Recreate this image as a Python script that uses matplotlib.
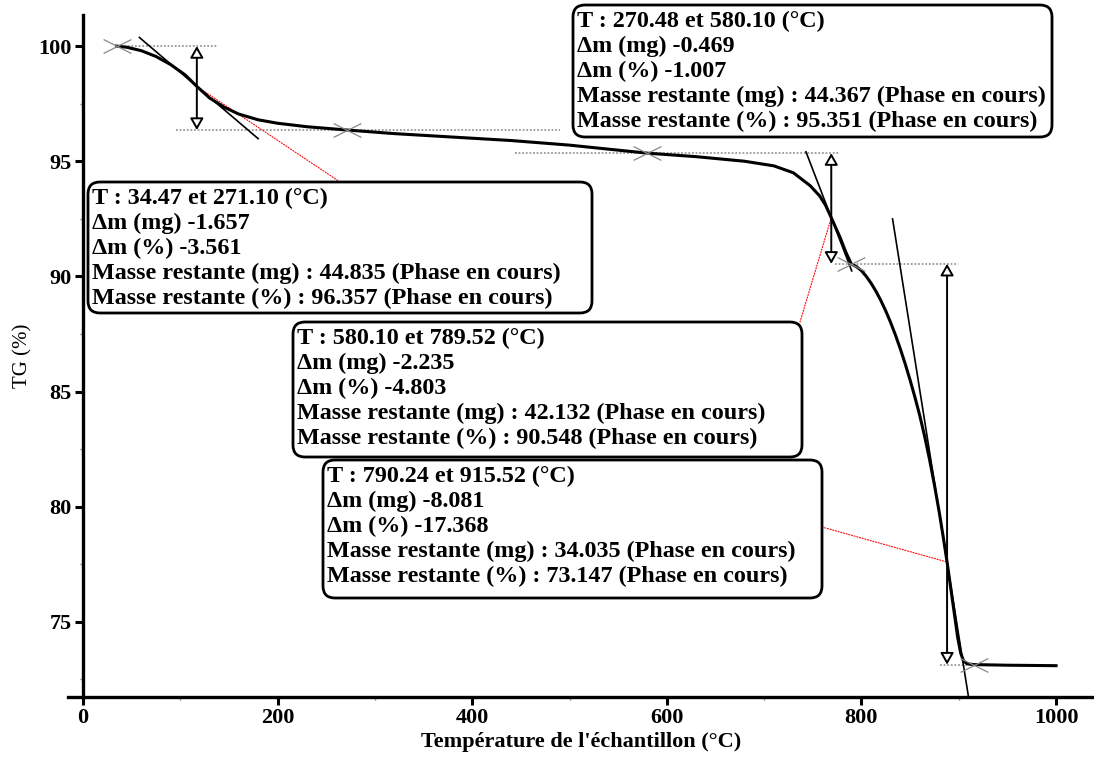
import numpy as np
import matplotlib
matplotlib.use("Agg")
import matplotlib.pyplot as plt
from matplotlib.patches import FancyBboxPatch, FancyArrowPatch
from matplotlib.path import Path
from matplotlib.transforms import IdentityTransform

plt.rcParams["font.family"] = ["Liberation Serif", "DejaVu Serif"]

# Thermogravimetric curve: sample temperature (°C) vs remaining mass (%)
temperature = [34.5, 45, 60, 75, 90, 105, 117, 130, 145, 160, 180, 200, 230,
               271.1, 320, 380, 440, 500, 580.1, 630, 680, 710, 730, 747, 757,
               763, 769, 778, 784, 789.5, 795, 800, 805, 810, 815, 820, 825,
               830, 835, 840, 845, 850, 855, 860, 865, 870, 875, 880, 884,
               888, 892, 896, 899, 902, 905, 909, 915.5, 950, 1000]
tg = [100.0, 99.95, 99.8, 99.55, 99.2, 98.75, 98.25, 97.75, 97.35, 97.05,
      96.8, 96.65, 96.5, 96.357, 96.2, 96.05, 95.9, 95.7, 95.351, 95.2, 95.0,
      94.8, 94.5, 93.95, 93.5, 93.1, 92.55, 91.7, 91.05, 90.548, 90.42, 90.25,
      90.0, 89.7, 89.35, 88.95, 88.5, 88.0, 87.45, 86.85, 86.2, 85.5, 84.75,
      83.95, 83.05, 82.05, 80.95, 79.75, 78.7, 77.6, 76.4, 75.2, 74.3, 73.65,
      73.3, 73.18, 73.147, 73.12, 73.1]

# Mass-loss steps reported by the analysis software
step_start = [34.47, 270.48, 580.10, 790.24]
step_end = [271.10, 580.10, 789.52, 915.52]
delta_mg = [-1.657, -0.469, -2.235, -8.081]
delta_pct = [-3.561, -1.007, -4.803, -17.368]
rest_mg = [44.835, 44.367, 42.132, 34.035]
rest_pct = [96.357, 95.351, 90.548, 73.147]

# Step boundaries (temperature, mass %) marked with crosses
bound_T = [34.47, 271.10, 580.10, 789.52, 915.52]
bound_TG = [100.0, 96.357, 95.351, 90.548, 73.147]

# Plateau reference levels (level, x from, x to)
level_TG = [100.0, 96.357, 95.351, 90.548, 73.147]
level_from = [34.47, 96, 444, 773, 881]
level_to = [138, 490, 778, 899, 927]

# Inflection temperatures, measured span of each arrow and tangent slopes
peak_T = [117, 769, 888]
arrow_top = [100.0, 95.351, 90.548]
arrow_bottom = [96.357, 90.548, 73.147]
tangent_slope = [-0.036, -0.110, -0.266]
tangent_from = [58, 743, 832]
tangent_to = [180, 790, 912]

x_ticks = [0, 200, 400, 600, 800, 1000]
y_ticks = [75, 80, 85, 90, 95, 100]

W, H = 1094, 757
fig = plt.figure(figsize=(W / 100, H / 100), dpi=100)
ax = fig.add_axes([68 / W, (H - 697) / H, (W - 68) / W, (697 - 15) / H])
ax.set_xlim(-15.4, 1039)
ax.set_ylim(71.74, 101.35)

for s in ("top", "right"):
    ax.spines[s].set_visible(False)
ax.spines["left"].set_position(("data", 0))
for s in ("left", "bottom"):
    ax.spines[s].set_linewidth(2.4)

ax.set_xticks(x_ticks)
ax.set_xticks([100, 300, 500, 700, 900], minor=True)
ax.set_yticks(y_ticks)
ax.set_yticks([72.5, 77.5, 82.5, 87.5, 92.5, 97.5], minor=True)
ax.tick_params(which="major", direction="out", length=6, width=2.2,
               labelsize=16, pad=2)
ax.tick_params(which="minor", direction="out", length=2.5, width=1,
               color="#888888")
for lab in ax.get_xticklabels() + ax.get_yticklabels():
    lab.set_fontweight("bold")

ax.set_xlabel("Température de l'échantillon (°C)", fontsize=16,
              fontweight="bold", labelpad=3)
ax.set_ylabel("TG (%)", fontsize=15)
ax.yaxis.set_label_coords(-0.035, 0.5)

# Plateau levels
for lv, a, b in zip(level_TG, level_from, level_to):
    ax.plot([a, b], [lv, lv], color="#999999", lw=1.3, ls=(0, (1, 1)),
            zorder=1)

# Tangents at the inflection points
for pt, sl, a, b in zip(peak_T, tangent_slope, tangent_from, tangent_to):
    y0 = np.interp(pt, temperature, tg)
    xs = np.array([a, b])
    ax.plot(xs, y0 + sl * (xs - pt), color="black", lw=1.2, zorder=2)

# TG curve
ax.plot(temperature, tg, color="black", lw=2.2, zorder=3)

# Boundary crosses
cross = Path([(-1, -0.5), (1, 0.5), (-1, 0.5), (1, -0.5)],
             [Path.MOVETO, Path.LINETO, Path.MOVETO, Path.LINETO])
ax.plot(bound_T, bound_TG, ls="none", marker=cross, markersize=20,
        markeredgecolor="#888888", markeredgewidth=0.9, zorder=4)

# Double arrows for the mass loss of each step
for pt, top, bot in zip(peak_T, arrow_top, arrow_bottom):
    arr = FancyArrowPatch((pt, bot), (pt, top),
                          arrowstyle="<|-|>,head_length=7,head_width=4",
                          mutation_scale=1, shrinkA=0, shrinkB=0,
                          fc="white", ec="black", lw=1.4, zorder=5)
    ax.add_patch(arr)

# Result boxes: left, top, right, bottom in pixels from the top-left corner
boxes = [(88, 182, 592, 313), (573, 5, 1052, 137),
         (293, 322, 802, 457), (323, 460, 822, 598)]

lines_per_box = []
for a, b, dm, dp, rm, rp in zip(step_start, step_end, delta_mg, delta_pct,
                                rest_mg, rest_pct):
    lines_per_box.append([
        f"T : {a:.2f} et {b:.2f} (°C)",
        f"Δm (mg) {dm:.3f}",
        f"Δm (%) {dp:.3f}",
        f"Masse restante (mg) : {rm:.3f} (Phase en cours)",
        f"Masse restante (%) : {rp:.3f} (Phase en cours)",
    ])

# Leader lines from the inflection points to their boxes
leader_end = [(340, 182), (800, 322), (822, 527)]
for pt, (ex, ey) in zip(peak_T, leader_end):
    y0 = np.interp(pt, temperature, tg)
    ax.annotate("", xy=(pt, y0), xycoords="data",
                xytext=(ex, H - ey), textcoords="figure pixels",
                arrowprops=dict(arrowstyle="-", color="red", lw=0.8,
                                ls=(0, (1, 1.5)), shrinkA=0, shrinkB=0),
                zorder=2)

# Fit the text size so that the last line of a box spans about 463 px
fig.canvas.draw()
renderer = fig.canvas.get_renderer()
probe = fig.text(0, 0, lines_per_box[0][4], fontsize=16, fontweight="bold")
wpx = probe.get_window_extent(renderer).width
probe.remove()
box_fs = 16 * 463 / wpx

for (l, t, r, b), lines in zip(boxes, lines_per_box):
    patch = FancyBboxPatch((l, H - b), r - l, b - t,
                           boxstyle="round,pad=0,rounding_size=12",
                           transform=IdentityTransform(), fc="white",
                           ec="black", lw=2.0, zorder=10)
    fig.add_artist(patch)
    for i, txt in enumerate(lines):
        fig.text((l + 4) / W, 1 - (t + 16 + 25 * i) / H, txt,
                 fontsize=box_fs, fontweight="bold", va="center",
                 ha="left", zorder=11)

fig.savefig("out.png", dpi=100)
